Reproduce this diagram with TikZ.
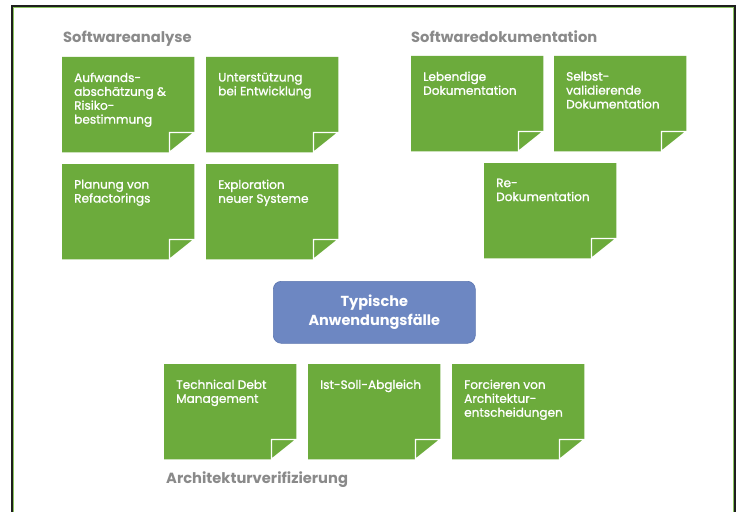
\documentclass[tikz,border=0pt]{standalone}
\usepackage{fontspec}
\setmainfont{Poppins}
\newfontfamily\notefont{Poppins}[FakeBold=1.2]
\definecolor{notegreen}{HTML}{6CAB3C}
\definecolor{boxblue}{HTML}{6D87C2}
\definecolor{boxblueedge}{HTML}{5C76B0}
\definecolor{titlegray}{HTML}{8A8A8A}
\definecolor{framedark}{HTML}{1E1E1E}
\definecolor{framegreen}{HTML}{8CC460}
\tikzset{
  notebox/.style={rectangle, minimum width=132pt, minimum height=95pt, inner sep=0pt, anchor=north west},
  notetext/.style={text=white, font=\notefont\fontsize{12.1}{13.9}\selectfont, align=left, inner sep=0pt, anchor=north west},
  grouptitle/.style={text=titlegray, font=\fontsize{14.7}{16}\selectfont\bfseries, inner sep=0pt, anchor=base west},
  centerbox/.style={rectangle, rounded corners=8pt, fill=boxblue, draw=boxblueedge, line width=0.6pt,
    minimum width=202pt, minimum height=62pt, inner sep=0pt, anchor=north west, text=white,
    font=\fontsize{14.5}{19}\selectfont\bfseries, align=center},
  flap/.style={fill=notegreen, draw=white, line width=1.3pt, line join=miter}
}
\newcommand\stickynote[4]{%
  \node[notebox] (#1) at (#2,#3) {};
  \fill[notegreen] (#1.north west) -- (#1.north east) -- ([yshift=20pt]#1.south east)
     -- ([xshift=-25pt]#1.south east) -- (#1.south west) -- cycle;
  \filldraw[flap] ([xshift=-25pt,yshift=20pt]#1.south east) -- ([yshift=20pt]#1.south east)
     -- ([xshift=-25pt]#1.south east) -- cycle;
  \node[notetext] (#1t) at ([xshift=12pt,yshift=-15.5pt]#1.north west) {#4};
}
\begin{document}
\begin{tikzpicture}[x=1pt,y=-1pt]
\useasboundingbox (0,0) rectangle (738,511);
\fill[white] (0,0) rectangle (738,511);
\begin{scope}
  \clip (0,0) rectangle (738,511);
  \draw[line width=2pt, framedark] (12,6) rectangle (735,530);
  \draw[line width=0.8pt, framegreen] (13.8,7.8) rectangle (733.2,530);
\end{scope}

\node[grouptitle] (t1) at (63,42) {Softwareanalyse};
\node[grouptitle] (t2) at (411,42) {Softwaredokumentation};
\node[grouptitle] (t3) at (166,483) {Architekturverifizierung};

\stickynote{n1}{62}{57}{Aufwands-\\abschätzung \&\\Risiko-\\bestimmung}
\stickynote{n2}{206}{57}{Unterstützung\\bei Entwicklung}
\stickynote{n3}{62}{164}{Planung von\\Refactorings}
\stickynote{n4}{206}{164}{Exploration\\neuer Systeme}
\stickynote{n5}{411}{56}{Lebendige\\Dokumentation}
\stickynote{n6}{554}{56}{Selbst-\\validierende\\Dokumentation}
\stickynote{n7}{484}{163}{Re-\\Dokumentation}
\stickynote{n8}{164}{364}{Technical Debt\\Management}
\stickynote{n9}{308}{364}{Ist-Soll-Abgleich}
\stickynote{n10}{452}{364}{Forcieren von\\Architektur-\\entscheidungen}

\node[centerbox] (c) at (273,281) {Typische\\Anwendungsfälle};
\end{tikzpicture}
\end{document}
